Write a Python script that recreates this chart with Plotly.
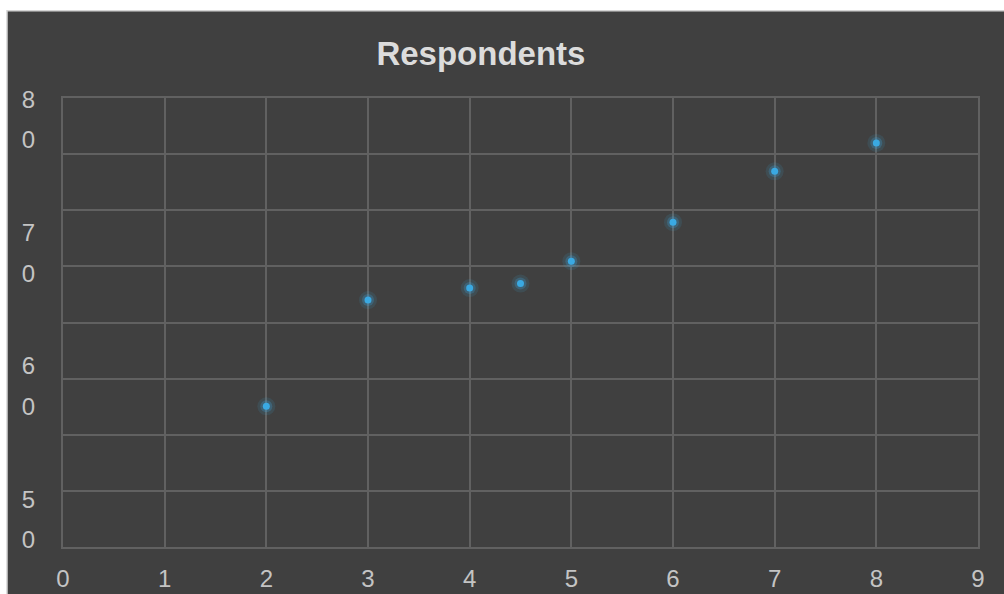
import plotly.graph_objects as go

# Data
x_vals = [2, 3, 4, 4.5, 5, 6, 7, 8]
respondents = [59.4, 66.5, 67.3, 67.6, 69.1, 71.7, 75.1, 77.0]

# Axis settings
x_range = [0, 9]
y_range = [50, 80]
y_grid_step = 3.75
# The y tick labels appear wrapped digit by digit in the original
y_label_vals = [79.9, 77.2, 71.0, 68.3, 62.1, 59.4, 53.2, 50.5]
y_label_text = ["8", "0", "7", "0", "6", "0", "5", "0"]

BG = "#404040"
GRID = "#616161"
TICK = "#c4c4c4"
BLUE = "#3aa9e2"

fig = go.Figure()

# glow halos (on primary y axis)
fig.add_trace(go.Scatter(x=x_vals, y=respondents, mode="markers", yaxis="y",
                         marker=dict(size=18, color="rgba(58,169,226,0.12)", line=dict(width=0)),
                         hoverinfo="skip", showlegend=False))
fig.add_trace(go.Scatter(x=x_vals, y=respondents, mode="markers", yaxis="y",
                         marker=dict(size=12, color="rgba(58,169,226,0.25)", line=dict(width=0)),
                         hoverinfo="skip", showlegend=False))
# core points (on label axis)
fig.add_trace(go.Scatter(x=x_vals, y=respondents, mode="markers", yaxis="y2",
                         name="Respondents",
                         marker=dict(size=7, color=BLUE, line=dict(width=0)),
                         showlegend=False))

fig.update_layout(
    width=1004, height=594,
    margin=dict(l=63, r=26, t=98, b=47),
    paper_bgcolor="white",
    plot_bgcolor=BG,
    font=dict(family="Liberation Sans, Arial, sans-serif", color=TICK, size=24),
    title=dict(text="<b>Respondents</b>", x=0.479, xanchor="center",
               y=1 - 53 / 594, yanchor="middle", yref="container",
               font=dict(size=33, color="#dcdcdc", family="Liberation Sans, Arial, sans-serif")),
    xaxis=dict(range=x_range, dtick=1, tick0=0, showgrid=True, gridcolor=GRID, gridwidth=1.8,
               zeroline=False, showline=True, linecolor=GRID, linewidth=1.8, mirror=True,
               automargin=False,
               ticks="", ticklabelstandoff=9, tickfont=dict(size=24, color=TICK)),
    yaxis=dict(range=y_range, dtick=y_grid_step, tick0=50, showgrid=True, gridcolor=GRID,
               gridwidth=1.8, zeroline=False, showline=True, linecolor=GRID, linewidth=1.8,
               mirror=True, showticklabels=False, ticks="", automargin=False),
    yaxis2=dict(range=y_range, overlaying="y", side="left", tickmode="array",
                tickvals=y_label_vals, ticktext=y_label_text, showgrid=False,
                zeroline=False, showline=False, ticks="", ticklabelstandoff=27,
                automargin=False, tickfont=dict(size=24, color=TICK)),
    shapes=[dict(type="rect", xref="paper", yref="paper", layer="below",
                 x0=(7 - 63) / 915, x1=(1010 - 63) / 915,
                 y0=(547.3 - 600) / 449, y1=(547.3 - 11) / 449,
                 fillcolor=BG, line=dict(color="#d4d4d4", width=1.5))],
)

fig.write_html("out.html")
